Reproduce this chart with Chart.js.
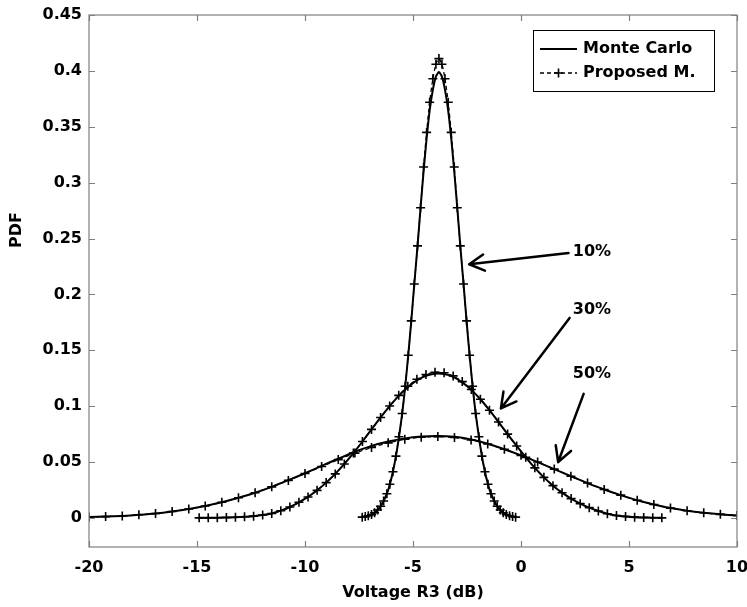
<!DOCTYPE html>
<html>
<head>
<meta charset="utf-8">
<script src="https://cdn.jsdelivr.net/npm/chart.js@4/dist/chart.umd.min.js"></script>
<style>
  html, body { margin: 0; padding: 0; background: #fff; }
  canvas { display: block; }
</style>
</head>
<body>
<canvas id="pdfChart" width="747" height="607"></canvas>
<script>
// 10% spread
const x10 = [-7.35,-7.21,-7.07,-6.92,-6.78,-6.64,-6.50,-6.36,-6.21,-6.07,-5.93,-5.79,-5.65,-5.50,-5.36,-5.22,-5.08,-4.94,-4.79,-4.65,-4.51,-4.37,-4.23,-4.08,-3.94,-3.80,
  -3.66,-3.52,-3.37,-3.23,-3.09,-2.95,-2.81,-2.66,-2.52,-2.38,-2.24,-2.10,-1.95,-1.81,-1.67,-1.53,-1.39,-1.24,-1.10,-0.96,-0.82,-0.68,-0.53,-0.39,-0.25];
const mc10 = [0.0007,0.0012,0.0019,0.0030,0.0047,0.0071,0.0105,0.0152,0.0217,0.0302,0.0413,0.0553,0.0726,0.0934,0.1178,0.1456,0.1763,0.2093,0.2434,0.2775,0.3100,0.3395,0.3643,0.3832,0.3949,0.3989,
  0.3949,0.3832,0.3643,0.3395,0.3100,0.2775,0.2434,0.2093,0.1763,0.1456,0.1178,0.0934,0.0726,0.0553,0.0413,0.0302,0.0217,0.0152,0.0105,0.0071,0.0047,0.0030,0.0019,0.0012,0.0007];
const pm10 = [0.0007,0.0012,0.0019,0.0030,0.0047,0.0071,0.0105,0.0152,0.0217,0.0302,0.0413,0.0553,0.0726,0.0934,0.1178,0.1456,0.1763,0.2093,0.2434,0.2775,0.3140,0.3450,0.3720,0.3930,0.4060,0.4110,
  0.4060,0.3930,0.3720,0.3450,0.3140,0.2775,0.2434,0.2093,0.1763,0.1456,0.1178,0.0934,0.0726,0.0553,0.0413,0.0302,0.0217,0.0152,0.0105,0.0071,0.0047,0.0030,0.0019,0.0012,0.0007];

// 30% spread
const x30 = [-14.90,-14.48,-14.06,-13.64,-13.22,-12.80,-12.38,-11.96,-11.54,-11.12,-10.70,-10.28,-9.86,-9.44,-9.02,-8.60,-8.18,-7.76,-7.34,-6.92,-6.50,-6.08,-5.66,-5.24,-4.82,-4.40,
  -3.98,-3.56,-3.14,-2.72,-2.30,-1.88,-1.46,-1.04,-0.62,-0.20,0.22,0.64,1.06,1.48,1.90,2.32,2.74,3.16,3.58,4.00,4.42,4.84,5.26,5.68,6.10,6.52];
const pm30 = [0.0001,0.0001,0.0002,0.0004,0.0006,0.0010,0.0016,0.0026,0.0040,0.0065,0.0098,0.0140,0.0188,0.0247,0.0316,0.0394,0.0483,0.0580,0.0684,0.0792,0.0899,0.1002,0.1097,0.1178,0.1241,0.1284,
  0.1304,0.1299,0.1271,0.1220,0.1149,0.1062,0.0964,0.0858,0.0750,0.0644,0.0542,0.0448,0.0363,0.0289,0.0226,0.0173,0.0128,0.0092,0.0062,0.0038,0.0022,0.0013,0.0007,0.0004,0.0002,0.0001];
const mc30 = [0.0001,0.0001,0.0002,0.0004,0.0006,0.0010,0.0016,0.0026,0.0040,0.0065,0.0098,0.0140,0.0188,0.0247,0.0316,0.0394,0.0483,0.0580,0.0684,0.0792,0.0899,0.1000,0.1092,0.1170,0.1230,0.1272,
  0.1290,0.1287,0.1262,0.1213,0.1146,0.1062,0.0964,0.0858,0.0750,0.0644,0.0542,0.0448,0.0363,0.0289,0.0226,0.0173,0.0128,0.0092,0.0062,0.0038,0.0022,0.0013,0.0007,0.0004,0.0002,0.0001];

// 50% spread
const x50 = [-20,-19.23,-18.46,-17.69,-16.92,-16.15,-15.38,-14.62,-13.85,-13.08,-12.31,-11.54,-10.77,-10.00,-9.23,-8.46,-7.69,-6.92,-6.15,-5.38,
  -4.62,-3.85,-3.08,-2.31,-1.54,-0.77,0,0.77,1.54,2.31,3.08,3.85,4.62,5.38,6.15,6.92,7.69,8.46,9.23,10];
const pm50 = [0.0008,0.0012,0.0018,0.0028,0.0040,0.0058,0.0080,0.0107,0.0140,0.0180,0.0226,0.0278,0.0336,0.0397,0.0460,0.0522,0.0580,0.0630,0.0672,0.0704,
  0.0722,0.0728,0.0720,0.0698,0.0662,0.0615,0.0560,0.0500,0.0437,0.0373,0.0312,0.0255,0.0204,0.0158,0.0120,0.0088,0.0064,0.0046,0.0032,0.0022];
const mc50 = [0.0008,0.0012,0.0018,0.0028,0.0040,0.0058,0.0080,0.0107,0.0140,0.0180,0.0226,0.0278,0.0338,0.0400,0.0466,0.0530,0.0592,0.0645,0.0684,0.0712,
  0.0728,0.0733,0.0726,0.0702,0.0664,0.0615,0.0560,0.0500,0.0437,0.0373,0.0312,0.0255,0.0204,0.0158,0.0120,0.0088,0.0064,0.0046,0.0032,0.0022];

const xTicks = [-20, -15, -10, -5, 0, 5, 10];
const yTicks = [0, 0.05, 0.1, 0.15, 0.2, 0.25, 0.3, 0.35, 0.4, 0.45];
const legendLabels = ['Monte Carlo', 'Proposed M.'];
// [label, label x, label y, arrow start x, start y, tip x, tip y]
const notes = [
  ['10%', 2.4, 0.238, 2.2, 0.237, -2.4, 0.227],
  ['30%', 2.4, 0.186, 2.25, 0.179, -0.93, 0.098],
  ['50%', 2.4, 0.129, 2.9, 0.111, 1.72, 0.050],
];

const FONT = '"DejaVu Sans", sans-serif';
const pts = (xs, ys) => xs.map((x, i) => ({ x, y: ys[i] }));

const solid = (data) => ({
  data,
  borderColor: '#000',
  borderWidth: 2,
  pointRadius: 0,
  showLine: true,
  tension: 0.2,
});
const dashed = (data) => ({
  data,
  borderColor: '#000',
  borderWidth: 1.3,
  borderDash: [4, 3],
  pointStyle: 'cross',
  pointRadius: 4.5,
  pointBorderWidth: 1.6,
  pointBorderColor: '#000',
  showLine: true,
  tension: 0.2,
});

const decor = {
  id: 'decor',
  afterDraw(chart) {
    const { ctx, chartArea: a, scales: { x, y } } = chart;
    ctx.save();
    // axes box + inward ticks on all four sides
    ctx.strokeStyle = '#808080';
    ctx.lineWidth = 1.2;
    ctx.strokeRect(a.left, a.top, a.right - a.left, a.bottom - a.top);
    ctx.beginPath();
    xTicks.forEach(v => {
      const px = Math.round(x.getPixelForValue(v)) + 0.5;
      ctx.moveTo(px, a.bottom); ctx.lineTo(px, a.bottom - 6);
      ctx.moveTo(px, a.top); ctx.lineTo(px, a.top + 6);
    });
    yTicks.forEach(v => {
      const py = Math.round(y.getPixelForValue(v)) + 0.5;
      ctx.moveTo(a.left, py); ctx.lineTo(a.left + 6, py);
      ctx.moveTo(a.right, py); ctx.lineTo(a.right - 6, py);
    });
    ctx.stroke();

    // y title
    ctx.fillStyle = '#000';
    ctx.font = 'bold 16px ' + FONT;
    ctx.save();
    ctx.translate(17, 230);
    ctx.rotate(-Math.PI / 2);
    ctx.textAlign = 'center';
    ctx.textBaseline = 'middle';
    ctx.fillText('PDF', 0, 0);
    ctx.restore();

    // legend
    const lx = a.right - 204, ly = a.top + 15;
    ctx.fillStyle = '#fff';
    ctx.fillRect(lx, ly, 181, 61);
    ctx.strokeStyle = '#000';
    ctx.lineWidth = 1;
    ctx.strokeRect(lx + 0.5, ly + 0.5, 181, 61);
    ctx.fillStyle = '#000';
    ctx.textAlign = 'left';
    ctx.textBaseline = 'middle';
    legendLabels.forEach((t, i) => {
      const ry = ly + 19 + i * 24;
      ctx.beginPath();
      ctx.lineWidth = i === 0 ? 2 : 1.3;
      ctx.setLineDash(i === 0 ? [] : [4, 3]);
      ctx.moveTo(lx + 7, ry); ctx.lineTo(lx + 44, ry);
      ctx.stroke();
      ctx.setLineDash([]);
      if (i === 1) {
        ctx.lineWidth = 1.6;
        ctx.beginPath();
        ctx.moveTo(lx + 21, ry); ctx.lineTo(lx + 30, ry);
        ctx.moveTo(lx + 25.5, ry - 4.5); ctx.lineTo(lx + 25.5, ry + 4.5);
        ctx.stroke();
      }
      ctx.fillText(t, lx + 50, ry);
    });

    // arrow annotations
    ctx.lineWidth = 2.5;
    ctx.lineCap = 'round';
    notes.forEach(([t, tx, ty, sx, sy, ex, ey]) => {
      const x0 = x.getPixelForValue(sx), y0 = y.getPixelForValue(sy);
      const x1 = x.getPixelForValue(ex), y1 = y.getPixelForValue(ey);
      const ang = Math.atan2(y1 - y0, x1 - x0);
      ctx.beginPath();
      ctx.moveTo(x0, y0); ctx.lineTo(x1, y1);
      [0.5, -0.5].forEach(d => {
        ctx.moveTo(x1, y1);
        ctx.lineTo(x1 - 17 * Math.cos(ang + d), y1 - 17 * Math.sin(ang + d));
      });
      ctx.stroke();
      ctx.fillText(t, x.getPixelForValue(tx), y.getPixelForValue(ty));
    });
    ctx.restore();
  },
};

new Chart(document.getElementById('pdfChart'), {
  type: 'scatter',
  data: {
    datasets: [
      solid(pts(x10, mc10)), dashed(pts(x10, pm10)),
      solid(pts(x30, mc30)), dashed(pts(x30, pm30)),
      solid(pts(x50, mc50)), dashed(pts(x50, pm50)),
    ],
  },
  options: {
    responsive: false,
    animation: false,
    devicePixelRatio: 1,
    layout: { padding: { top: 15, right: 10, left: 0, bottom: 0 } },
    plugins: { legend: { display: false }, tooltip: { enabled: false } },
    scales: {
      x: {
        type: 'linear',
        min: -20,
        max: 10,
        afterFit: s => { s.height = 60; s.paddingLeft = 0; s.paddingRight = 0; },
        afterBuildTicks: s => { s.ticks = xTicks.map(value => ({ value })); },
        grid: { display: false, drawTicks: false },
        border: { display: false },
        ticks: { color: '#000', padding: 11, font: { family: FONT, size: 16, weight: 'bold' } },
        title: {
          display: true,
          text: 'Voltage R3 (dB)',
          color: '#000',
          padding: { top: 0, bottom: 5 },
          font: { family: FONT, size: 16, weight: 'bold' },
        },
      },
      y: {
        type: 'linear',
        min: -0.026,
        max: 0.45,
        afterFit: s => { s.width = 89; s.paddingTop = 0; s.paddingBottom = 0; },
        afterBuildTicks: s => { s.ticks = yTicks.map(value => ({ value })); },
        grid: { display: false, drawTicks: false },
        border: { display: false },
        ticks: {
          color: '#000',
          padding: 7,
          font: { family: FONT, size: 16, weight: 'bold' },
          callback: v => String(+v.toFixed(2)),
        },
      },
    },
  },
  plugins: [decor],
});
</script>
</body>
</html>
